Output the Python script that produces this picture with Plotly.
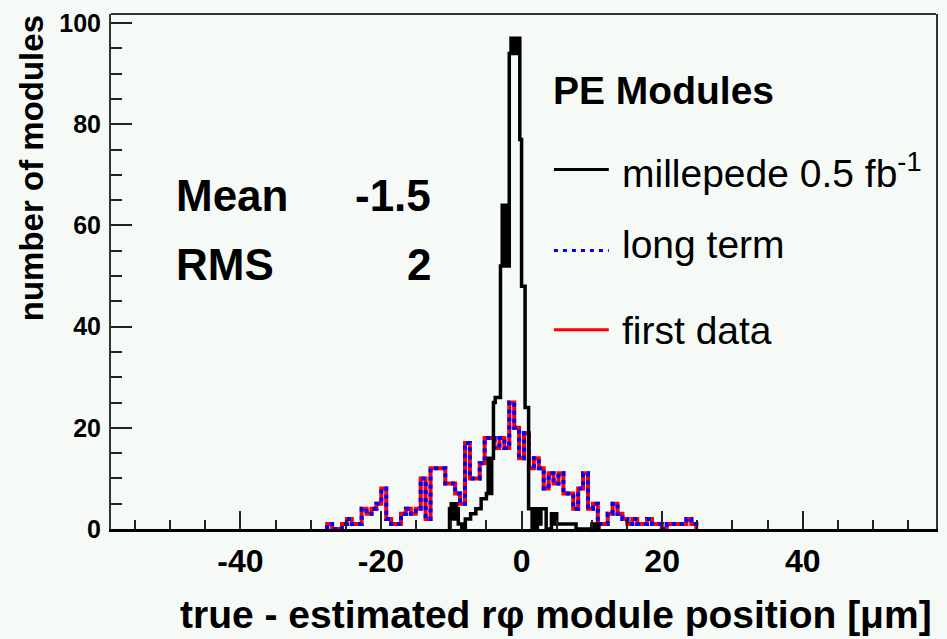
import numpy as np
import plotly.graph_objects as go

# ---------------- data ----------------
# black histogram: millepede 0.5 fb^-1 (fine bins)
black_lo = -10.25
black_w = 0.25
black_counts = [4, 5, 2, 5, 4, 1, 1, 0, 0, 2, 2, 2, 3, 3, 3, 4, 4, 4, 6, 6, 6,
                7, 14, 7, 14, 25, 26, 26, 26, 52, 64, 52, 64, 52, 94, 97, 94,
                97, 94, 97, 77, 48, 48, 24, 24, 4, 4, 0, 4, 0, 4, 1, 4, 4, 4,
                0, 0, 0, 3, 1, 3, 1, 1, 1, 1, 1, 1, 1, 1, 1, 1, 1, 0, 0, 0, 0,
                0, 0, 0, 0, 0, 1, 1, 0, 1, 0]

# long term / first data (identical, overlaid)
wide_lo = -27.65
wide_w = 0.7
longterm_counts = [1, 0, 0, 1, 2, 1, 1, 4, 3, 4, 5, 8, 2, 1, 1, 3, 4, 3, 4, 10,
                   2, 12, 12, 12, 9, 9, 7, 5, 17, 10, 10, 13, 18, 18, 16, 18,
                   16, 25, 20, 14, 19, 12, 14, 12, 8, 11, 9, 11, 7, 7, 4, 8,
                   11, 4, 5, 1, 1, 3, 5, 3, 2, 1, 2, 1, 1, 2, 1, 1, 0, 1, 1,
                   1, 1, 2, 1]
firstdata_counts = list(longterm_counts)

x_tickvals = [-40, -20, 0, 20, 40]
x_ticktext = ["-40", "-20", "0", "20", "40"]
y_tickvals = [0, 20, 40, 60, 80, 100]
x_range = [-58.4, 58.95]
y_range = [0, 101.8]

legend_title = "PE Modules"
legend_labels = ["millepede 0.5 fb<sup>-1</sup>", "long term", "first data"]
stats = [("Mean", "-1.5"), ("RMS", "2")]
x_title = "true - estimated rφ module position [μm]"
y_title = "number of modules"

FONT = "Liberation Sans"
BG = "#f6faf7"


def step_xy(lo, w, counts):
    edges = lo + w * np.arange(len(counts) + 1)
    xs = [edges[0]] + list(edges) + [edges[-1]]
    ys = [0] + list(counts) + [counts[-1], 0]
    return xs, ys


fig = go.Figure()
xr, yr = step_xy(wide_lo, wide_w, firstdata_counts)
fig.add_trace(go.Scatter(x=xr, y=yr, mode="lines", line_shape="hv",
                         line=dict(color="#ff0000", width=4),
                         name="first data", showlegend=False))
xb, yb = step_xy(wide_lo, wide_w, longterm_counts)
fig.add_trace(go.Scatter(x=xb, y=yb, mode="lines", line_shape="hv",
                         line=dict(color="#0000ff", width=4, dash="dot"),
                         name="long term", showlegend=False))
xk, yk = step_xy(black_lo, black_w, black_counts)
fig.add_trace(go.Scatter(x=xk, y=yk, mode="lines", line_shape="hv",
                         line=dict(color="#000000", width=3.5),
                         name="millepede 0.5 fb-1", showlegend=False))

# --------------- layout ---------------
W, H = 947, 639
ML, MR, MT, MB = 111, 9, 10, 110
PW, PH = W - ML - MR, H - MT - MB


def px(x):
    return (x - ML) / PW


def py(y):
    return (H - MB - y) / PH


fig.update_layout(
    width=W, height=H, autosize=False,
    margin=dict(l=ML, r=MR, t=MT, b=MB, pad=0),
    paper_bgcolor=BG, plot_bgcolor=BG,
    font=dict(family=FONT, color="black"),
)
fig.update_xaxes(
    range=x_range, showgrid=False, zeroline=False,
    tickmode="array", tickvals=x_tickvals, ticktext=x_ticktext,
    ticks="inside", ticklen=18, tickwidth=1.5, tickcolor="#222",
    minor=dict(tickmode="linear", tick0=0, dtick=5, ticks="inside",
               ticklen=9, tickwidth=1.5, tickcolor="#222", showgrid=False),
    showline=True, linecolor="black", linewidth=3, mirror=False,
    tickfont=dict(family=FONT, size=32, color="black", weight="bold"),
    ticklabelstandoff=2,
)
fig.update_yaxes(
    range=y_range, showgrid=False, zeroline=False,
    tickmode="array", tickvals=y_tickvals,
    ticks="inside", ticklen=21, tickwidth=1.5, tickcolor="#222",
    minor=dict(tickmode="linear", tick0=0, dtick=5, ticks="inside",
               ticklen=11, tickwidth=1.5, tickcolor="#222", showgrid=False),
    showline=True, linecolor="#333", linewidth=2, mirror=True,
    tickfont=dict(family=FONT, size=25, color="black", weight="bold"),
    ticklabelstandoff=3,
)

shapes = [
    dict(type="line", xref="paper", yref="paper", x0=0, x1=1, y0=1, y1=1,
         line=dict(color="#333", width=2)),
    # legend samples
    dict(type="line", xref="paper", yref="paper", x0=px(555), x1=px(610),
         y0=py(166.7), y1=py(166.7), line=dict(color="black", width=3)),
    dict(type="line", xref="paper", yref="paper", x0=px(555), x1=px(610),
         y0=py(248.3), y1=py(248.3),
         line=dict(color="#0000ff", width=3, dash="4px,5px")),
    dict(type="line", xref="paper", yref="paper", x0=px(555), x1=px(610),
         y0=py(328.3), y1=py(328.3), line=dict(color="#ff0000", width=3)),
]
fig.update_layout(shapes=shapes)

ann = []
# legend
ann.append(dict(text="<b>" + legend_title + "</b>", x=px(553), y=py(110),
                xanchor="left", yanchor="bottom"))
leg_bottoms = [193.5, 264.5, 352]
for lab, yb_ in zip(legend_labels, leg_bottoms):
    ann.append(dict(text=lab, x=px(622.7), y=py(yb_), xanchor="left",
                    yanchor="bottom"))
for a in ann:
    a.update(xref="paper", yref="paper", showarrow=False, borderpad=0,
             font=dict(family=FONT, size=39, color="black"))

stat_bottoms = [219, 288.5]
for (k, v), b in zip(stats, stat_bottoms):
    ann.append(dict(text="<b>" + k + "</b>", x=px(175), y=py(b),
                    xanchor="left", yanchor="bottom", xref="paper",
                    yref="paper", showarrow=False, borderpad=0,
                    font=dict(family=FONT, size=44, color="black")))
    ann.append(dict(text="<b>" + v + "</b>", x=px(433), y=py(b),
                    xanchor="right", yanchor="bottom", xref="paper",
                    yref="paper", showarrow=False, borderpad=0,
                    font=dict(family=FONT, size=44, color="black")))

ann.append(dict(text="<b>" + x_title + "</b>", x=px(935), y=py(638),
                xanchor="right", yanchor="bottom", xref="paper",
                yref="paper", showarrow=False, borderpad=0,
                font=dict(family=FONT, size=39, color="black")))
ann.append(dict(text="<b>" + y_title + "</b>", x=px(31), y=1.0,
                xanchor="center", yanchor="top", textangle=-90,
                xref="paper", yref="paper", showarrow=False, borderpad=0,
                font=dict(family=FONT, size=33, color="black")))
fig.update_layout(annotations=ann)

fig.write_html("out.html")
